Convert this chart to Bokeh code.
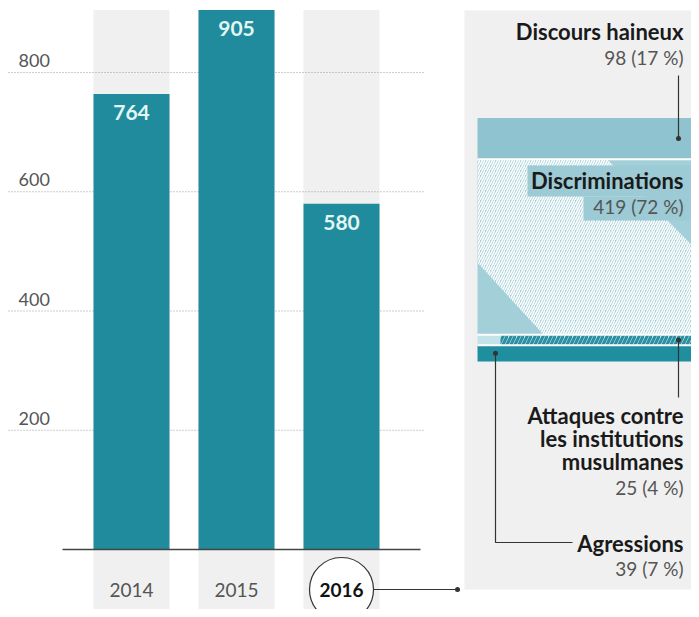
from bokeh.plotting import figure
from bokeh.layouts import row
from bokeh.models import Range1d
from bokeh.embed import file_html
from bokeh.resources import INLINE
from bokeh.core.properties import value

# ---------------- data ----------------
years = ["2014", "2015", "2016"]
counts = [764, 905, 580]
ticks = [200, 400, 600, 800]

# 2016 breakdown (top to bottom as displayed)
cat_names = [["Discours haineux"], ["Discriminations"],
             ["Attaques contre", "les institutions", "musulmanes"], ["Agressions"]]
cat_counts = [98, 419, 25, 39]
cat_pcts = [17, 72, 4, 7]

# ---------------- style ----------------
TEAL = "#1f8b9c"
FONT = value("Lato")
GRAY_BG = "#f0f0f0"
H = 609
LW = 460
RW = 231

# ---------------- left: bar chart ----------------
BASE = 549.0          # baseline, px from top of figure
PX = 0.59625          # px per unit
COL = 105.0           # px between columns
X0 = 131.0            # px of first column centre


def lx(X):
    return (X - X0) / COL


def ly(Y):
    return (BASE - Y) / PX


p = figure(width=LW, height=H, x_range=Range1d(lx(0), lx(LW)),
           y_range=Range1d(ly(H), ly(0)), output_backend="svg",
           toolbar_location=None, min_border=0, outline_line_color=None,
           x_axis_location=None, y_axis_location=None)
p.grid.visible = False
p.background_fill_color = "white"
p.border_fill_color = "white"

xs = list(range(len(years)))
bw = 76 / COL
p.vbar(x=xs, width=bw, top=max(counts), bottom=ly(H + 20),
       fill_color=GRAY_BG, line_color=None)
p.segment(x0=lx(8), x1=lx(425), y0=ticks, y1=ticks, line_color="#9a9a9a",
          line_dash="1 2", line_width=1)
p.vbar(x=xs, width=bw, top=counts, bottom=0, fill_color=TEAL, line_color=None)
p.text(x=xs, y=counts, text=[str(c) for c in counts], text_align="center",
       text_baseline="middle", y_offset=19, text_color="#e2f6f4",
       text_font=FONT, text_font_style="bold", text_font_size="21px")
p.segment(x0=lx(62), x1=lx(420), y0=0, y1=0, line_color="#444444", line_width=1.5)
p.text(x=lx(18), y=ticks, text=[str(t) for t in ticks], text_align="left",
       text_baseline="middle", y_offset=-12, text_color="#555555",
       text_font=FONT, text_font_size="18px")

yl = ly(589)
last = len(years) - 1
p.segment(x0=last + 32 / COL, x1=lx(457), y0=yl, y1=yl, line_color="#333333", line_width=1.2)
p.scatter(x=[lx(457)], y=[yl], size=5, marker="circle", fill_color="#333333", line_color=None)
p.scatter(x=[last], y=[yl], size=64, marker="circle", fill_color="white",
          line_color="#333333", line_width=1.2)
p.text(x=xs[:last], y=yl, text=years[:last], text_align="center", text_baseline="middle",
       text_color="#555555", text_font=FONT, text_font_size="19px")
p.text(x=[last], y=[yl], text=[years[last]], text_align="center", text_baseline="middle",
       text_color="#111111", text_font=FONT, text_font_style="bold", text_font_size="19px")

# ---------------- right: 2016 breakdown ----------------
RB = 361.0            # block bottom, px from top of figure
S = 243.0 / 580.0     # px per unit


def ry(Y):
    return (RB - Y) / S


def rx(X):
    return X - 460


q = figure(width=RW, height=H, x_range=Range1d(0, RW),
           y_range=Range1d(ry(H), ry(0)), output_backend="svg",
           toolbar_location=None, min_border=0, outline_line_color=None,
           x_axis_location=None, y_axis_location=None)
q.grid.visible = False
q.background_fill_color = "white"
q.border_fill_color = "white"

q.quad(left=rx(464), right=rx(700), top=ry(10), bottom=ry(589),
       fill_color=GRAY_BG, line_color=None)

n = len(cat_counts)
bots = [0.0] * n
tops = [0.0] * n
acc = 0.0
for i in reversed(range(n)):
    bots[i] = acc
    acc += cat_counts[i]
    tops[i] = acc
mids = [(b + t) / 2 for b, t in zip(bots, tops)]

BL, BR = rx(477), rx(693)
seg_colors = ["#8ec3cf", "#a3cfd9", "#c3e3e9", "#1f8fa0"]
q.quad(left=BL, right=BR, bottom=bots, top=tops, fill_color=seg_colors, line_color=None)

# hatched decoration in "Discriminations"
b1, t1 = bots[1], tops[1]
h1 = t1 - b1
W = BR - BL
hx = [BL, BL + 0.60 * W, BR, BR, BL + 0.306 * W, BL]
hy = [t1, t1, t1 - 0.50 * h1, b1, b1, t1 - 0.59 * h1]
q.patch(hx, hy, fill_color=seg_colors[1], line_color=None, hatch_pattern="/",
        hatch_color="white", hatch_alpha=1.0, hatch_scale=5, hatch_weight=1.6)
# solid label boxes
q.quad(left=[rx(527), rx(583)], right=[BR, BR], top=[ry(165), ry(196)],
       bottom=[ry(196), ry(220)], fill_color="#9ccad5", line_color=None)

# hatched "Attaques"
q.quad(left=rx(500), right=BR, bottom=bots[2], top=tops[2], fill_color=seg_colors[2],
       line_color=None, hatch_pattern="/", hatch_color="#2a8fa0", hatch_alpha=1.0,
       hatch_scale=8, hatch_weight=3)

# white separators
q.segment(x0=BL, x1=BR, y0=tops[1:], y1=tops[1:], line_color="white", line_width=2)

# leader lines
LC = "#333333"
q.segment(x0=rx(678), x1=rx(678), y0=ry(75), y1=mids[0], line_color=LC, line_width=1.2)
q.segment(x0=rx(678), x1=rx(678), y0=mids[2], y1=ry(397), line_color=LC, line_width=1.2)
q.line(x=[rx(495), rx(495), rx(572)], y=[mids[3], ry(542), ry(542)], line_color=LC, line_width=1.2)
q.scatter(x=[rx(678), rx(678), rx(495)], y=[mids[0], mids[2], mids[3]], size=5,
          marker="circle", fill_color=LC, line_color=None)

# labels
title_y = [[31], [180], [415, 438, 461], [543]]
val_y = [57, 206, 487, 568]
tx, ty, tt = [], [], []
for names, ys in zip(cat_names, title_y):
    for nm, yy in zip(names, ys):
        tx.append(rx(683))
        ty.append(ry(yy))
        tt.append(nm)
q.text(x=tx, y=ty, text=tt, text_align="right", text_baseline="middle",
       text_color="#1a1a1a", text_font=FONT, text_font_style="bold", text_font_size="22px")
q.text(x=rx(683), y=[ry(v) for v in val_y],
       text=[f"{c} ({pc} %)" for c, pc in zip(cat_counts, cat_pcts)],
       text_align="right", text_baseline="middle", text_color="#555555",
       text_font=FONT, text_font_size="19px")

layout = row(p, q, spacing=0)
open("out.html", "w").write(file_html(layout, INLINE))
